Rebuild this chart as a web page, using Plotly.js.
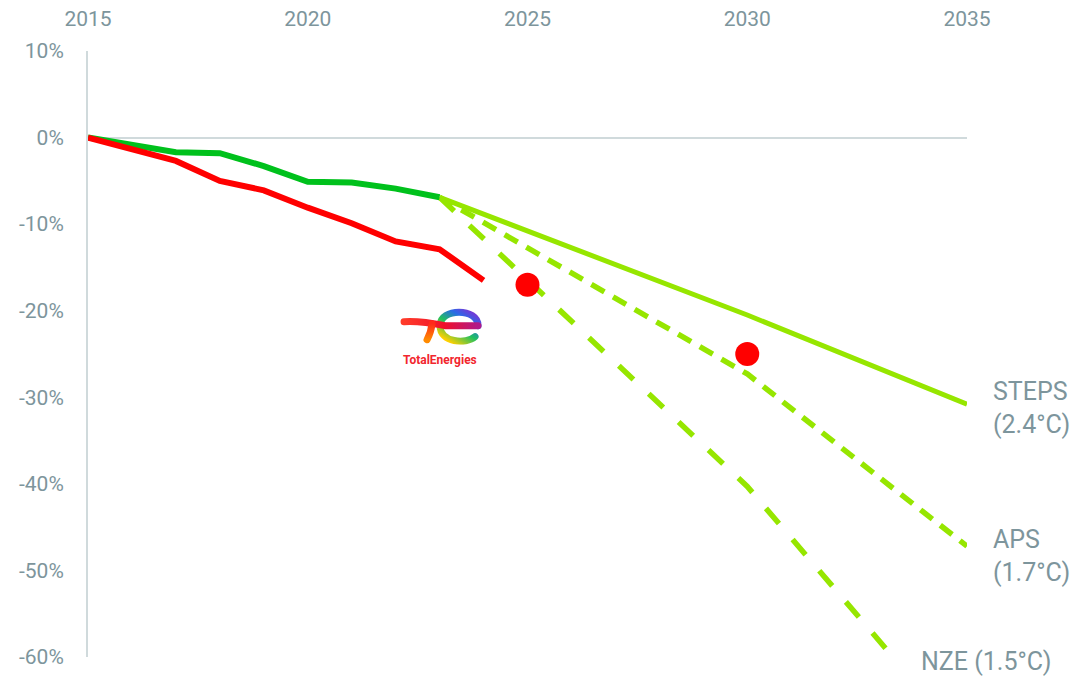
<!DOCTYPE html>
<html>
<head>
<meta charset="utf-8">
<script src="https://cdn.plot.ly/plotly-3.0.1.min.js"></script>
<style>
html,body{margin:0;padding:0;background:#fff;}
#chart{width:1076px;height:679px;}
</style>
</head>
<body>
<div id="chart"></div>
<script>
// ---- data ----
const histYears = [2015, 2017, 2018, 2019, 2020, 2021, 2022, 2023];
const histValues = [0, -1.7, -1.8, -3.3, -5.1, -5.2, -5.9, -6.9];

const totalYears = [2015, 2017, 2018, 2019, 2020, 2021, 2022, 2023, 2024];
const totalValues = [0, -2.7, -5.0, -6.1, -8.1, -9.9, -12.0, -12.9, -16.5];

const targetYears = [2025, 2030];
const targetValues = [-17.0, -25.0];

const scenarioYears = [2023, 2030, 2035];
const stepsValues = [-6.9, -20.5, -30.8];
const apsValues = [-6.9, -27.3, -47.2];
const nzeValues = [-6.9, -40.3, -70.0];

const xTickVals = [2015, 2020, 2025, 2030, 2035];
const xTickText = ['2015', '2020', '2025', '2030', '2035'];
const yTickVals = [10, 0, -10, -20, -30, -40, -50, -60];
const yTickText = ['10%', '0%', '-10%', '-20%', '-30%', '-40%', '-50%', '-60%'];

const labelSteps = 'STEPS<br>(2.4°C)';
const labelAps = 'APS<br>(1.7°C)';
const labelNze = 'NZE (1.5°C)';
const logoText = 'TotalEnergies';

// ---- style ----
const textColor = '#7d959c';
const axisColor = '#d0dadc';
const histGreen = '#00c11c';
const scenGreen = '#96e600';
const red = '#ff0000';
const font = 'Roboto, "Noto Sans", sans-serif';

const traces = [
  {x: scenarioYears, y: stepsValues, mode: 'lines', line: {color: scenGreen, width: 5}},
  {x: scenarioYears, y: apsValues, mode: 'lines', line: {color: scenGreen, width: 5.5, dash: '15px,10px'}},
  {x: scenarioYears, y: nzeValues, mode: 'lines', line: {color: scenGreen, width: 5.5, dash: '20px,21px'}},
  {x: histYears, y: histValues, mode: 'lines', line: {color: histGreen, width: 6}},
  {x: totalYears, y: totalValues, mode: 'lines', line: {color: red, width: 6}},
  {x: targetYears, y: targetValues, mode: 'markers', marker: {color: red, size: 24}}
];

const svg = "<svg xmlns='http://www.w3.org/2000/svg' width='82' height='40' viewBox='0 0 82 40' preserveAspectRatio='none'>" +
  "<defs>" +
  "<linearGradient id='r' x1='0' y1='0' x2='1' y2='0'><stop offset='0' stop-color='#ff3b2a'/><stop offset='0.55' stop-color='#f0102a'/><stop offset='1' stop-color='#b01a8a'/></linearGradient>" +
  "<linearGradient id='s' x1='0' y1='0' x2='0' y2='1'><stop offset='0' stop-color='#ff2a1a'/><stop offset='1' stop-color='#ff8a00'/></linearGradient>" +
  "<linearGradient id='e' x1='1' y1='0' x2='0.2' y2='1'><stop offset='0' stop-color='#8a2ad0'/><stop offset='0.3' stop-color='#2a6ae8'/><stop offset='0.6' stop-color='#20c060'/><stop offset='1' stop-color='#ffd000'/></linearGradient>" +
  "</defs>" +
  "<path d='M78,21 C78,3 40,3 40,21 C40,38 66,40 75,32' fill='none' stroke='url(#e)' stroke-width='7' stroke-linecap='round'/>" +
  "<path d='M4,17 C18,16 30,18 45,21 L78,21' fill='none' stroke='url(#r)' stroke-width='7' stroke-linecap='round'/>" +
  "<path d='M32,19 Q31,28 27,35' fill='none' stroke='url(#s)' stroke-width='7' stroke-linecap='round'/>" +
  "</svg>";
const logoSrc = 'data:image/svg+xml;utf8,' + encodeURIComponent(svg);

const layout = {
  width: 1076,
  height: 679,
  margin: {l: 88, r: 109, t: 51, b: 22},
  paper_bgcolor: '#ffffff',
  plot_bgcolor: '#ffffff',
  showlegend: false,
  hovermode: false,
  font: {family: font, color: textColor, size: 21},
  xaxis: {
    range: [2015, 2035],
    side: 'top',
    tickmode: 'array',
    tickvals: xTickVals,
    ticktext: xTickText,
    showgrid: false,
    zeroline: false,
    showline: false,
    ticks: 'outside',
    ticklen: 16,
    tickcolor: 'rgba(0,0,0,0)',
    tickfont: {family: font, color: textColor, size: 21}
  },
  yaxis: {
    range: [-60, 10],
    tickmode: 'array',
    tickvals: yTickVals,
    ticktext: yTickText,
    showgrid: false,
    zeroline: true,
    zerolinecolor: axisColor,
    zerolinewidth: 2,
    showline: true,
    linecolor: axisColor,
    linewidth: 2,
    ticks: 'outside',
    ticklen: 18,
    tickcolor: 'rgba(0,0,0,0)',
    tickfont: {family: font, color: textColor, size: 21}
  },
  images: [{
    source: logoSrc,
    xref: 'x', yref: 'y',
    x: 2022.1, y: -19.3,
    sizex: 82 / 43.95, sizey: 40 / 8.66,
    sizing: 'stretch',
    xanchor: 'left', yanchor: 'top',
    layer: 'above'
  }],
  annotations: [
    {x: 2035, y: -31.2, xref: 'x', yref: 'y', text: labelSteps, showarrow: false,
     xanchor: 'left', yanchor: 'middle', align: 'left', xshift: 24,
     font: {family: font, color: textColor, size: 25}},
    {x: 2035, y: -48.3, xref: 'x', yref: 'y', text: labelAps, showarrow: false,
     xanchor: 'left', yanchor: 'middle', align: 'left', xshift: 24,
     font: {family: font, color: textColor, size: 25}},
    {x: 2033.9, y: -0.008, xref: 'x', yref: 'paper', text: labelNze, showarrow: false,
     xanchor: 'left', yanchor: 'middle', align: 'left',
     font: {family: font, color: textColor, size: 25}},
    {x: 2023.02, y: -25.7, xref: 'x', yref: 'y', text: '<b>' + logoText + '</b>', showarrow: false,
     xanchor: 'center', yanchor: 'middle',
     font: {family: font, color: '#f2262e', size: 12}}
  ]
};

Plotly.newPlot('chart', traces, layout, {displayModeBar: false, staticPlot: true});
</script>
</body>
</html>
